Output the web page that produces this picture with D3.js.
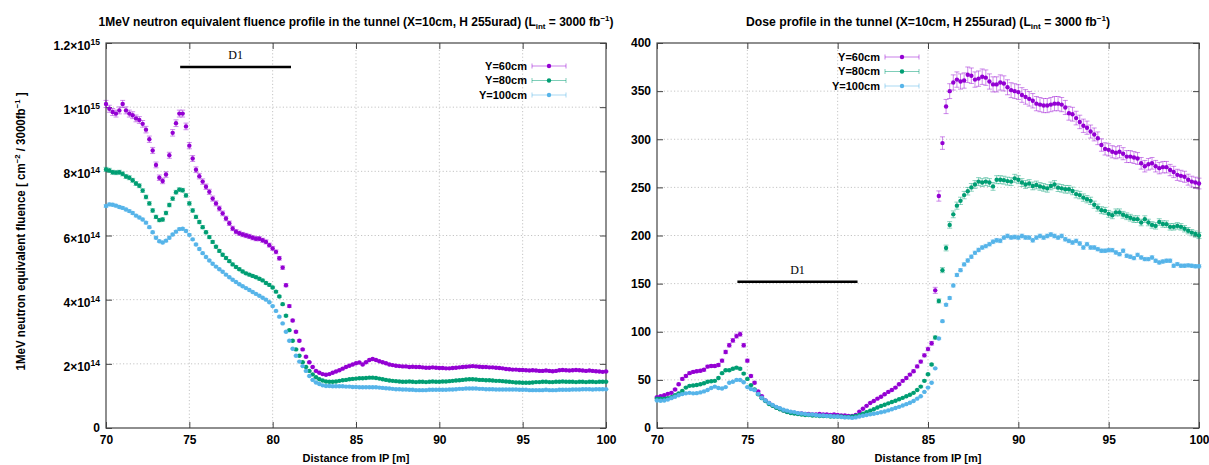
<!DOCTYPE html>
<html>
<head>
<meta charset="utf-8">
<script src="https://cdn.jsdelivr.net/npm/d3@7"></script>
<style>
  body { margin: 0; background: #fff; }
  text { font-family: "Liberation Sans", Arial, sans-serif; font-weight: bold; font-size: 11px; fill: #000; }
  .tick text { font-size: 12px; }
  .d1 { font-family: "Liberation Serif", "Times New Roman", serif; font-weight: normal; font-size: 12px; }
</style>
</head>
<body>
<svg id="chart" width="1209" height="465"></svg>
<script>
// sampling grid along the tunnel, 0.2 m bins from 70 to 100 m
var distance = d3.range(0, 151).map(function(i) { return +(70 + i * 0.2).toFixed(1) })

var seriesNames = ["Y=60cm", "Y=80cm", "Y=100cm"]
var colors = ["#9400d3", "#009e73", "#56b4e9"]

// 1 MeV neq fluence, units of 1e14 cm^-2 / 3000 fb^-1
var fluence60 = [
  10.1, 9.95, 9.85, 9.8, 9.9, 10.1, 9.9, 9.8, 9.75, 9.65,
  9.6, 9.48, 9.3, 9.0, 8.65, 8.2, 7.8, 7.7, 7.9, 8.5,
  9.2, 9.5, 9.8, 9.8, 9.4, 8.8, 8.4, 8.05, 7.85, 7.68,
  7.52, 7.36, 7.15, 7.0, 6.84, 6.69, 6.53, 6.38, 6.22, 6.12,
  6.07, 6.03, 6.0, 5.97, 5.93, 5.9, 5.9, 5.85, 5.8, 5.7,
  5.6, 5.49, 5.29, 5.0, 4.45, 3.8, 3.35, 3.0, 2.72, 2.45,
  2.22, 2.05, 1.9, 1.78, 1.72, 1.68, 1.66, 1.68, 1.72, 1.76,
  1.80, 1.85, 1.90, 1.94, 1.98, 2.02, 2.04, 1.98, 2.05, 2.12,
  2.15, 2.12, 2.08, 2.05, 2.02, 1.98, 1.96, 1.94, 1.93, 1.92,
  1.92, 1.90, 1.91, 1.90, 1.90, 1.89, 1.88, 1.88, 1.89, 1.88,
  1.87, 1.87, 1.86, 1.86, 1.87, 1.88, 1.89, 1.90, 1.91, 1.92,
  1.93, 1.92, 1.91, 1.90, 1.90, 1.89, 1.89, 1.88, 1.87, 1.86,
  1.84, 1.83, 1.82, 1.82, 1.81, 1.81, 1.80, 1.79, 1.80, 1.79,
  1.78, 1.78, 1.79, 1.78, 1.77, 1.78, 1.80, 1.81, 1.80, 1.79,
  1.80, 1.81, 1.80, 1.79, 1.78, 1.79, 1.78, 1.77, 1.76, 1.75,
  1.76]
var fluence80 = [
  8.06, 8.03, 7.97, 7.96, 7.97, 7.92, 7.84, 7.80, 7.72, 7.62,
  7.55, 7.40, 7.20, 7.0, 6.78, 6.58, 6.48, 6.5, 6.7, 6.95,
  7.15, 7.35, 7.43, 7.41, 7.25, 7.0, 6.78, 6.58, 6.42, 6.26,
  6.10, 5.95, 5.80, 5.65, 5.52, 5.40, 5.30, 5.20, 5.10, 5.02,
  4.95, 4.88, 4.82, 4.78, 4.74, 4.70, 4.65, 4.60, 4.52, 4.46,
  4.38, 4.25, 4.10, 3.86, 3.50, 3.05, 2.72, 2.45, 2.25, 2.05,
  1.90, 1.78, 1.67, 1.58, 1.52, 1.48, 1.45, 1.44, 1.44, 1.45,
  1.47, 1.49, 1.50, 1.52, 1.53, 1.54, 1.55, 1.55, 1.56, 1.57,
  1.57, 1.56, 1.54, 1.52, 1.50, 1.48, 1.47, 1.46, 1.45, 1.44,
  1.44, 1.45, 1.44, 1.43, 1.44, 1.44, 1.43, 1.44, 1.45, 1.44,
  1.44, 1.45, 1.45, 1.46, 1.47, 1.48, 1.49, 1.50, 1.51, 1.52,
  1.52, 1.51, 1.50, 1.50, 1.49, 1.49, 1.48, 1.47, 1.47, 1.46,
  1.45, 1.44, 1.43, 1.42, 1.42, 1.41, 1.41, 1.41, 1.42, 1.43,
  1.43, 1.44, 1.44, 1.43, 1.43, 1.44, 1.44, 1.45, 1.44, 1.44,
  1.44, 1.43, 1.44, 1.44, 1.43, 1.44, 1.44, 1.43, 1.44, 1.44,
  1.44]
var fluence100 = [
  6.92, 6.97, 6.96, 6.93, 6.89, 6.86, 6.81, 6.76, 6.70, 6.62,
  6.56, 6.50, 6.40, 6.26, 6.10, 5.93, 5.82, 5.78, 5.84, 5.93,
  6.03, 6.12, 6.20, 6.21, 6.14, 6.02, 5.88, 5.72, 5.58, 5.45,
  5.33, 5.22, 5.12, 5.03, 4.95, 4.87, 4.78, 4.70, 4.62, 4.55,
  4.48, 4.42, 4.36, 4.30, 4.24, 4.18, 4.12, 4.06, 4.0, 3.92,
  3.80, 3.65, 3.47, 3.26, 3.0, 2.72, 2.47, 2.25, 2.07, 1.93,
  1.78, 1.62, 1.50, 1.42, 1.37, 1.33, 1.31, 1.31, 1.30, 1.30,
  1.30, 1.30, 1.29, 1.29, 1.28, 1.28, 1.27, 1.27, 1.27, 1.27,
  1.27, 1.27, 1.26, 1.25, 1.24, 1.23, 1.22, 1.21, 1.21, 1.20,
  1.20, 1.19, 1.19, 1.18, 1.18, 1.18, 1.18, 1.19, 1.19, 1.19,
  1.19, 1.19, 1.19, 1.20, 1.20, 1.21, 1.22, 1.22, 1.23, 1.23,
  1.23, 1.23, 1.22, 1.22, 1.21, 1.21, 1.21, 1.20, 1.20, 1.20,
  1.20, 1.20, 1.20, 1.20, 1.19, 1.19, 1.19, 1.18, 1.18, 1.18,
  1.18, 1.18, 1.19, 1.18, 1.18, 1.18, 1.19, 1.19, 1.19, 1.19,
  1.20, 1.20, 1.20, 1.21, 1.21, 1.21, 1.20, 1.21, 1.21, 1.21,
  1.21]

// dose
var dose60 = [
  32, 33, 34, 35.5, 36.5, 40, 45.5, 51, 54, 57,
  58.3, 58.9, 59.5, 60.5, 63.8, 64.4, 64.4, 65.5, 70, 79,
  86, 91, 95.5, 97.5, 86, 70, 54, 47, 38, 33,
  28.5, 26, 23.5, 21.5, 20, 18.5, 17, 16.5, 15.5, 15,
  15, 14.5, 14.5, 14, 14, 14.5, 14, 14, 13.5, 14,
  13.5, 13, 13, 12.5, 12.5, 13.5, 17, 20, 23, 26,
  28, 30.5, 32.5, 35, 37.5, 39.5, 42, 45.5, 49, 52,
  55.5, 59, 64, 69, 75.5, 82, 88, 143, 241, 296,
  334, 350, 359, 362, 360, 361, 367, 366, 362, 363,
  365, 364, 360, 357, 357, 359, 358, 354, 351, 350,
  349, 346, 344, 342, 340, 337, 336, 335, 335, 336,
  337, 337, 336, 333, 327, 326, 322, 318, 314, 312,
  308, 305, 301, 294, 290, 289, 287, 286, 287, 285,
  282, 282, 281, 280, 275, 272, 274, 275, 272, 270,
  271, 271, 268, 266, 263, 262, 261, 258, 256, 255,
  254]
var dose80 = [
  30.5, 30.5, 30.5, 31, 32, 34, 36, 38.5, 42, 43.8,
  44.2, 44.6, 45.5, 46.5, 48, 48.5, 49, 52, 57, 60,
  60, 61.5, 62.7, 61.5, 56.5, 51, 44.5, 40, 35, 31,
  28, 25, 23, 21, 19.5, 18, 16.5, 15.5, 15, 14.5,
  14, 13.5, 13.5, 13, 13, 12.5, 12.5, 12.5, 12, 12,
  12, 12, 11.5, 11.5, 12, 12.5, 13.5, 14.8, 16.5, 18,
  19.5, 21.3, 22.8, 24.2, 25.6, 27, 28.3, 29.8, 31.3, 33,
  34.5, 36.5, 39.5, 43, 49, 55.8, 66, 94, 132, 164,
  187, 211, 222, 231, 236, 242, 246, 250, 253, 256,
  255, 256, 255, 251, 258, 258, 257.5, 256.5, 256, 259.4,
  258, 255, 253, 254, 251.5, 252.5, 251, 250, 249, 251.5,
  253, 249.7, 249, 248, 248, 246.3, 243, 242, 239.4, 237.7,
  236, 232, 229, 226.3, 225.6, 222.5, 221, 224, 224, 221.5,
  220, 218.5, 217, 217, 213.5, 217, 213.5, 211, 210, 214,
  212, 211.8, 209, 209, 210, 209, 207, 205, 203, 201.5,
  200]
var dose100 = [
  28.5, 28.3, 28.5, 29.5, 31, 32.5, 34, 35.2, 36, 36.5,
  36, 36.2, 37, 38, 39.5, 41.5, 43, 41.5, 41, 42.5,
  47, 48, 50, 49.8, 47.5, 42.5, 40.5, 39.3, 35.5, 31.5,
  28.5, 26, 24, 22, 20.5, 19, 18, 17, 16.5, 15.5,
  15, 14.5, 14, 14, 13.5, 13, 13, 12.5, 12.5, 12,
  12, 11.5, 11, 11, 10.5, 11, 12, 12.8, 13.5, 14.2,
  14.8, 15.5, 16.3, 17.2, 18.3, 19.5, 20.8, 22, 23.3, 24.8,
  26.3, 28, 30.5, 33, 37.5, 42, 47, 62, 93, 111,
  128, 135, 148, 159, 164, 170, 174, 178, 182, 185,
  187.5, 189, 191, 193.5, 195, 194.5, 197.8, 199.5, 198, 198.5,
  197.8, 199.5, 198, 197.8, 195, 197.8, 199.5, 197.8, 199.5, 201,
  199.5, 197.8, 199.5, 196.1, 194.4, 192.7, 194.4, 191.7, 187.5, 191,
  187.5, 187.5, 185.8, 184.1, 184.1, 184.8, 184.8, 182.4, 180.6, 184.1,
  178.9, 177.9, 176.5, 179.9, 177.2, 175.5, 175.5, 177.2, 173.8, 172,
  173, 173.8, 173.8, 168.6, 170.3, 168.6, 168.6, 169, 168.5, 168,
  168]

// relative statistical error per series
var fluenceErr = [0.011, 0.008, 0.006]
var doseErr = [0.022, 0.016, 0.01]

var xTicks = [70, 75, 80, 85, 90, 95, 100]
var fluenceTicks = [0, 2, 4, 6, 8, 10, 12]
var fluenceTickMant = ["0", "2", "4", "6", "8", "1", "1.2"]
var fluenceTickExp = ["", "14", "14", "14", "14", "15", "15"]
var doseTicks = [0, 50, 100, 150, 200, 250, 300, 350, 400]

// D1 magnet extent (m) and the height the bar is drawn at
var d1Span = [74.45, 81.1]
var d1FluenceY = 11.25
var d1DoseY = 152

var svg = d3.select("#chart")

// text with sub/superscripts: parts = [[str, shift], ...], shift 0 normal, 1 sup, -1 sub
function richText(sel, parts, supSize) {
  var prev = 0
  parts.forEach(function(p) {
    var shift = p[1]
    var dy = 0
    if (prev == 1) dy += 5
    if (prev == -1) dy -= 3
    if (shift == 1) dy -= 5
    if (shift == -1) dy += 3
    var t = sel.append("tspan").text(p[0])
    if (dy) t.attr("dy", dy)
    if (shift) t.style("font-size", (supSize || 8) + "px")
    prev = shift
  })
}

function panel(cfg) {
  var g = svg.append("g")
  var x = d3.scaleLinear().domain([70, 100]).range([cfg.left, cfg.right])
  var y = d3.scaleLinear().domain([0, cfg.yMax]).range([cfg.bottom, cfg.top])

  // dotted grid
  g.append("g").selectAll("line").data(xTicks.slice(1, -1)).enter().append("line")
    .attr("x1", function(d) { return x(d) }).attr("x2", function(d) { return x(d) })
    .attr("y1", cfg.top).attr("y2", cfg.bottom)
    .attr("stroke", "#c4c4c4").attr("stroke-dasharray", "1.2,2.2")
  g.append("g").selectAll("line").data(cfg.yTicks.slice(1, -1)).enter().append("line")
    .attr("x1", cfg.left).attr("x2", cfg.right)
    .attr("y1", function(d) { return y(d) }).attr("y2", function(d) { return y(d) })
    .attr("stroke", "#c4c4c4").attr("stroke-dasharray", "1.2,2.2")

  // axes, ticks pointing inwards and mirrored
  g.append("g").attr("transform", "translate(0," + cfg.bottom + ")")
    .call(d3.axisBottom(x).tickValues(xTicks).tickSize(-6).tickPadding(7))
  g.append("g").attr("transform", "translate(0," + cfg.top + ")")
    .call(d3.axisTop(x).tickValues(xTicks).tickSize(-6).tickFormat(""))
  var ay = g.append("g").attr("transform", "translate(" + cfg.left + ",0)")
    .call(d3.axisLeft(y).tickValues(cfg.yTicks).tickSize(-6).tickPadding(6))
  g.append("g").attr("transform", "translate(" + cfg.right + ",0)")
    .call(d3.axisRight(y).tickValues(cfg.yTicks).tickSize(-6).tickFormat(""))
  g.selectAll(".domain").remove()
  g.selectAll(".tick line").attr("stroke", "#444")
  g.selectAll(".tick text").attr("font-family", null).attr("font-size", null)

  if (cfg.tickMant) {
    ay.selectAll(".tick text").each(function(d, i) {
      var t = d3.select(this).text("")
      if (cfg.tickExp[i]) {
        richText(t, [[cfg.tickMant[i] + "\u00d710", 0], [cfg.tickExp[i], 1]], 8.5)
        t.attr("dy", "0.55em")
      } else {
        t.text(cfg.tickMant[i])
      }
    })
  }

  g.append("rect").attr("x", cfg.left).attr("y", cfg.top)
    .attr("width", cfg.right - cfg.left).attr("height", cfg.bottom - cfg.top)
    .attr("fill", "none").attr("stroke", "#444").attr("stroke-width", 1.2)

  // D1 marker
  g.append("line").attr("x1", x(d1Span[0])).attr("x2", x(d1Span[1]))
    .attr("y1", y(cfg.d1Y)).attr("y2", y(cfg.d1Y))
    .attr("stroke", "#000").attr("stroke-width", 2.6)
  g.append("text").attr("class", "d1")
    .attr("x", x((d1Span[0] + d1Span[1]) / 2)).attr("y", y(cfg.d1Y) - 8)
    .attr("text-anchor", "middle").text("D1")

  // data with error bars
  cfg.series.forEach(function(vals, s) {
    var col = colors[s]
    var e = cfg.err[s]
    var sg = g.append("g")
    var pts = vals.map(function(v, i) { return { d: distance[i], v: v } })
    var eb = sg.append("g").attr("stroke", col).attr("stroke-opacity", 0.45).attr("stroke-width", 1)
    eb.selectAll("path").data(pts).enter().append("path")
      .attr("d", function(p) {
        var px = x(p.d), y0 = y(p.v * (1 - e)), y1 = y(p.v * (1 + e))
        return "M" + px + "," + y0 + "V" + y1 +
          "M" + (px - 2.5) + "," + y0 + "h5M" + (px - 2.5) + "," + y1 + "h5"
      })
    sg.selectAll("circle").data(pts).enter().append("circle")
      .attr("cx", function(p) { return x(p.d) })
      .attr("cy", function(p) { return y(p.v) })
      .attr("r", 2.2).attr("fill", col)
  })

  // legend
  seriesNames.forEach(function(name, s) {
    var ly = cfg.legY + s * 14.5
    g.append("text").attr("x", cfg.legX).attr("y", ly).attr("dy", "0.35em")
      .attr("text-anchor", "end").text(name)
    var x0 = cfg.legX + 5, x1 = cfg.legX + 39
    g.append("path")
      .attr("d", "M" + x0 + "," + ly + "H" + x1 + "M" + x0 + "," + (ly - 2.5) + "v5M" + x1 + "," + (ly - 2.5) + "v5")
      .attr("stroke", colors[s]).attr("stroke-opacity", 0.5).attr("fill", "none")
    g.append("circle").attr("cx", (x0 + x1) / 2).attr("cy", ly).attr("r", 2.2).attr("fill", colors[s])
  })

  // titles
  var title = g.append("text").attr("x", (cfg.left + cfg.right) / 2).attr("y", 26)
    .attr("text-anchor", "middle").style("font-size", "12px")
    .attr("textLength", cfg.titleWidth).attr("lengthAdjust", "spacingAndGlyphs")
  richText(title, cfg.title)

  g.append("text").attr("x", (cfg.left + cfg.right) / 2).attr("y", 462)
    .attr("text-anchor", "middle").text("Distance from IP [m]")

  if (cfg.yLabel) {
    var yl = g.append("text").attr("transform", "translate(25," + ((cfg.top + cfg.bottom) / 2 - 4) + ") rotate(-90)")
      .attr("text-anchor", "middle").style("font-size", "12px")
      .attr("textLength", 278).attr("lengthAdjust", "spacingAndGlyphs")
    richText(yl, cfg.yLabel)
  }
}

panel({
  left: 106, right: 606, top: 43, bottom: 428, yMax: 12,
  yTicks: fluenceTicks, tickMant: fluenceTickMant, tickExp: fluenceTickExp,
  series: [fluence60, fluence80, fluence100], err: fluenceErr,
  d1Y: d1FluenceY, legX: 527, legY: 66, titleWidth: 515,
  title: [["1MeV neutron equivalent fluence profile in the tunnel (X=10cm, H 255urad) (L", 0], ["int", -1], [" = 3000 fb", 0], ["\u22121", 1], [")", 0]],
  yLabel: [["1MeV neutron equivalent fluence [ cm", 0], ["\u22122", 1], [" / 3000fb", 0], ["\u22121", 1], [" ]", 0]]
})

panel({
  left: 657, right: 1199, top: 43, bottom: 428, yMax: 400,
  yTicks: doseTicks,
  series: [dose60, dose80, dose100], err: doseErr,
  d1Y: d1DoseY, legX: 880, legY: 57, titleWidth: 364,
  title: [["Dose profile in the tunnel (X=10cm, H 255urad) (L", 0], ["int", -1], [" = 3000 fb", 0], ["\u22121", 1], [")", 0]]
})
</script>
</body>
</html>
